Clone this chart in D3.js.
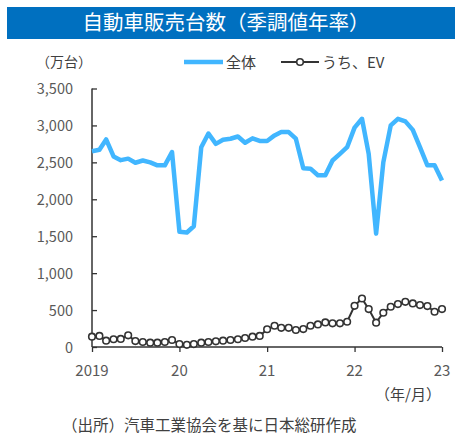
<!DOCTYPE html>
<html><head><meta charset="utf-8">
<script src="https://cdn.jsdelivr.net/npm/d3@7"></script>
<style>
body{margin:0;background:#fff;}
svg{display:block;font-family:"Noto Sans CJK JP","Noto Sans",sans-serif;}
</style></head>
<body><svg id="c" width="461" height="436"></svg>
<script>
const title = "自動車販売台数（季調値年率）";
const unitLabel = "（万台）";
const seriesNames = ["全体", "うち、EV"];
const startYear = 2019, startMonth = 0, nMonths = 49;
const totalSales = [
  2650, 2670, 2810, 2580, 2530, 2550, 2495, 2525, 2500, 2460, 2460, 2640,
  1560, 1550, 1635, 2705, 2890, 2750, 2805, 2820, 2850, 2765, 2825, 2790,
  2790, 2865, 2910, 2910, 2820, 2420, 2415, 2325, 2325, 2525, 2615, 2705,
  2970, 3090, 2615, 1535, 2500, 3000, 3090, 3055, 2940, 2705, 2460, 2460,
  2255
];
const evSales = [
  140, 150, 85, 105, 110, 158, 80, 68, 58, 58, 68, 95,
  40, 30, 40, 58, 68, 77, 85, 95, 105, 122, 140, 150,
  240, 288, 260, 260, 230, 243, 288, 306, 333, 320, 320, 342,
  558, 657, 513, 330, 464, 545, 581, 612, 590, 567, 554, 477,
  513
];
const yTicks = [0, 500, 1000, 1500, 2000, 2500, 3000, 3500];
const xTickYears = [2019, 2020, 2021, 2022, 2023];
const xTickLabels = ["2019", "20", "21", "22", "23"];
const xAxisTitle = "（年/月）";
const source = "（出所）汽車工業協会を基に日本総研作成";

const dates = d3.range(nMonths).map(i => new Date(startYear, startMonth + i, 1));

const svg = d3.select("#c");
const x = d3.scaleTime().domain([dates[0], dates[nMonths - 1]]).range([92, 442]);
const y = d3.scaleLinear().domain([0, 3500]).range([347, 88.5]);

// title bar
svg.append("rect").attr("x", 7).attr("y", 7).attr("width", 448).attr("height", 32).attr("fill", "#0070C0");
svg.append("text").attr("x", 226).attr("y", 30).attr("text-anchor", "middle")
  .attr("fill", "#fff").attr("font-size", 20.5).text(title);

// unit label
svg.append("text").attr("x", 36).attr("y", 67).attr("font-size", 14).attr("fill", "#404040").text(unitLabel);

// legend
const lg = svg.append("g");
lg.append("line").attr("x1", 184).attr("x2", 223).attr("y1", 62).attr("y2", 62)
  .attr("stroke", "#41B6FF").attr("stroke-width", 4.5);
lg.append("text").attr("x", 226).attr("y", 67.5).attr("font-size", 15).attr("fill", "#404040").text(seriesNames[0]);
lg.append("line").attr("x1", 281).attr("x2", 319).attr("y1", 62).attr("y2", 62)
  .attr("stroke", "#333").attr("stroke-width", 2);
lg.append("circle").attr("cx", 300).attr("cy", 62).attr("r", 3.3)
  .attr("fill", "#fff").attr("stroke", "#333").attr("stroke-width", 1.6);
lg.append("text").attr("x", 322).attr("y", 67.5).attr("font-size", 15).attr("fill", "#404040").text(seriesNames[1]);

// y axis
const yAxis = svg.append("g").attr("transform", "translate(92,0)")
  .call(d3.axisRight(y).tickValues(yTicks).tickSize(5).tickFormat(() => ""));
yAxis.select(".domain").attr("stroke", "#333").attr("stroke-width", 1.5).attr("d", `M0,${y(3500)}V${y(0)}`);
yAxis.selectAll(".tick line").attr("stroke", "#333").attr("stroke-width", 1.3);
svg.append("g").selectAll("text").data(yTicks).join("text")
  .attr("x", 73).attr("y", d => y(d) + 5.5).attr("text-anchor", "end")
  .attr("font-size", 14.5).attr("fill", "#595959").text(d => d3.format(",")(d));

// x axis
const xTickDates = xTickYears.map(yv => new Date(yv, 0, 1));
const xAxis = svg.append("g").attr("transform", "translate(0,347)")
  .call(d3.axisBottom(x).tickValues(xTickDates).tickSize(5).tickFormat(() => ""));
xAxis.select(".domain").attr("stroke", "#333").attr("stroke-width", 1.5).attr("d", `M${x(xTickDates[0])},0H${x(xTickDates[4])}`);
xAxis.selectAll(".tick line").attr("stroke", "#333").attr("stroke-width", 1.3);
svg.append("g").selectAll("text").data(xTickDates).join("text")
  .attr("x", d => x(d)).attr("y", 376).attr("text-anchor", "middle")
  .attr("font-size", 15).attr("fill", "#595959").text((d, i) => xTickLabels[i]);
svg.append("text").attr("x", 441).attr("y", 400).attr("text-anchor", "end")
  .attr("font-size", 15).attr("fill", "#404040").text(xAxisTitle);

// total line
svg.append("path").datum(totalSales)
  .attr("fill", "none").attr("stroke", "#41B6FF").attr("stroke-width", 4.5).attr("stroke-linejoin", "round")
  .attr("d", d3.line().x((d, i) => x(dates[i])).y(d => y(d)));

// EV line
svg.append("path").datum(evSales)
  .attr("fill", "none").attr("stroke", "#333").attr("stroke-width", 2)
  .attr("d", d3.line().x((d, i) => x(dates[i])).y(d => y(d)));
svg.append("g").selectAll("circle").data(evSales).join("circle")
  .attr("cx", (d, i) => x(dates[i])).attr("cy", d => y(d)).attr("r", 3.3)
  .attr("fill", "#fff").attr("stroke", "#333").attr("stroke-width", 1.6);

// source
svg.append("text").attr("x", 62).attr("y", 431).attr("font-size", 15.5).attr("fill", "#404040").text(source);
</script></body></html>
